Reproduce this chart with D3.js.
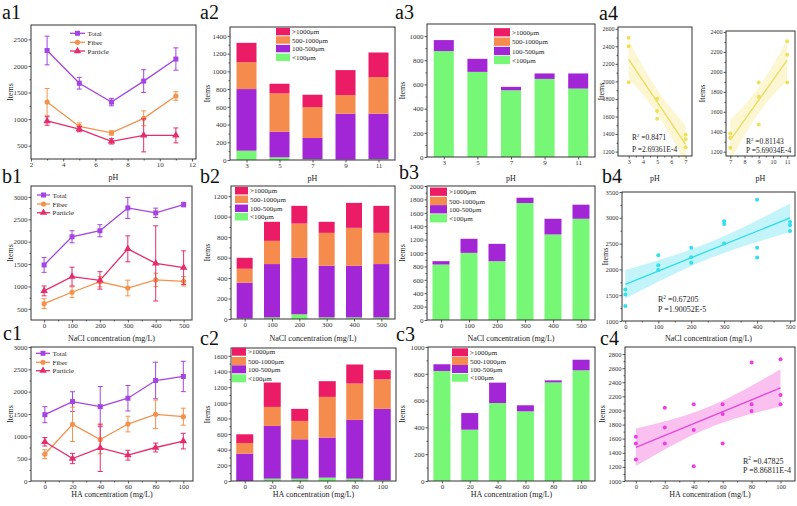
<!DOCTYPE html>
<html><head><meta charset="utf-8">
<script src="https://cdn.jsdelivr.net/npm/d3@7/dist/d3.min.js"></script>
<style>html,body{margin:0;padding:0;background:#fff}svg{display:block}</style>
</head><body>
<svg id="chart" width="797" height="506"></svg>
<script>
// ---------------- DATA ----------------
const phLevels = [3, 5, 7, 9, 11];
const naclLevels = [0, 100, 200, 300, 400, 500];
const haLevels = [0, 20, 40, 60, 80, 100];
const seriesNames = ["Total", "Fiber", "Particle"];
const sizeClasses = [">1000μm", "500-1000μm", "100-500μm", "<100μm"];

// a1 (pH, line + error bars)
const a1Total = [2290, 1675, 1320, 1715, 2130];
const a1TotalErr = [270, 110, 70, 215, 210];
const a1Fiber = [1320, 863, 740, 1015, 1435];
const a1FiberErr = [255, 65, 40, 140, 80];
const a1Particle = [965, 812, 582, 694, 694];
const a1ParticleErr = [80, 50, 50, 310, 140];

// b1 (NaCl)
const b1Total = [1480, 2110, 2245, 2755, 2645, 2830];
const b1TotalErr = [165, 135, 135, 235, 105, 50];
const b1Fiber = [615, 870, 1105, 965, 1145, 1115];
const b1FiberErr = [110, 120, 115, 175, 150, 105];
const b1Particle = [900, 1220, 1135, 1840, 1515, 1420];
const b1ParticleErr = [110, 210, 195, 290, 840, 375];

// c1 (HA)
const c1Total = [1485, 1778, 1665, 1853, 2250, 2340];
const c1TotalErr = [180, 220, 450, 285, 410, 340];
const c1Fiber = [600, 1268, 930, 1275, 1493, 1440];
const c1FiberErr = [100, 385, 320, 175, 320, 190];
const c1Particle = [878, 503, 743, 578, 750, 893];
const c1ParticleErr = [95, 115, 530, 110, 100, 175];

// stacked bars: segment heights (<100, 100-500, 500-1000, >1000)
const a2Lt100 = [105, 30, 11, 4, 11];
const a2S100to500 = [695, 289, 237, 518, 511];
const a2S500to1000 = [304, 432, 349, 210, 413];
const a2Gt1000 = [217, 109, 139, 282, 277];

const a3Lt100 = [876, 704, 552, 646, 566];
const a3S100to500 = [91, 108, 28, 45, 125];
const a3S500to1000 = [0, 0, 0, 0, 0];
const a3Gt1000 = [0, 0, 0, 0, 0];

const b2Lt100 = [5, 16, 46, 16, 16, 16];
const b2S100to500 = [349, 521, 552, 504, 504, 521];
const b2S500to1000 = [137, 227, 335, 322, 371, 305];
const b2Gt1000 = [107, 186, 173, 108, 244, 264];

const b3Lt100 = [828, 1002, 878, 1746, 1277, 1511];
const b3S100to500 = [50, 210, 259, 79, 234, 210];
const b3S500to1000 = [0, 0, 0, 0, 0, 0];
const b3Gt1000 = [0, 0, 0, 0, 0, 0];

const c2Lt100 = [0, 30, 30, 43, 30, 9];
const c2S100to500 = [350, 674, 503, 512, 751, 913];
const c2S500to1000 = [136, 243, 235, 520, 465, 379];
const c2Gt1000 = [111, 312, 154, 201, 243, 115];

const c3Lt100 = [821, 383, 582, 520, 736, 826];
const c3S100to500 = [50, 124, 152, 45, 15, 79];
const c3S500to1000 = [0, 0, 0, 0, 0, 0];
const c3Gt1000 = [0, 0, 0, 0, 0, 0];

// scatter + regression
const a4LeftX = [3, 3, 3, 5, 5, 5, 7, 7, 7];
const a4LeftY = [2497, 2402, 1990, 1803, 1662, 1574, 1391, 1341, 1250];
const a4RightX = [7, 7, 7, 9, 9, 9, 11, 11, 11];
const a4RightY = [1383, 1340, 1240, 1893, 1750, 1473, 2307, 2173, 1893];
const b4X = [0, 0, 0, 100, 100, 100, 200, 200, 200, 300, 300, 300, 400, 400, 400, 500, 500, 500];
const b4Y = [1612, 1515, 1290, 2276, 2082, 1986, 2418, 2237, 2128, 2933, 2881, 2501, 3352, 2418, 2231, 2920, 2856, 2746];
const c4X = [0, 0, 0, 20, 20, 20, 40, 40, 40, 60, 60, 60, 80, 80, 80, 100, 100, 100];
const c4Y = [1627, 1532, 1304, 2040, 1760, 1532, 2087, 1722, 1209, 2087, 1950, 1532, 2681, 2087, 1992, 2728, 2220, 2087];
const statR2 = ["0.8471", "0.81143", "0.67205", "0.47825"];
const statP = ["2.69361E-4", "5.69034E-4", "1.90052E-5", "8.86811E-4"];

// tick labels
const a1XTicks = [2, 4, 6, 8, 10, 12];
const a1YTicks = [500, 1000, 1500, 2000, 2500];
const a2YTicks = [0, 200, 400, 600, 800, 1000, 1200, 1400];
const a3YTicks = [0, 200, 400, 600, 800, 1000];
const a4LeftXTicks = [3, 4, 5, 6, 7];
const a4LeftYTicks = [1200, 1400, 1600, 1800, 2000, 2200, 2400, 2600];
const a4RightXTicks = [7, 8, 9, 10, 11];
const a4RightYTicks = [1200, 1400, 1600, 1800, 2000, 2200, 2400];
const b1YTicks = [500, 1000, 1500, 2000, 2500, 3000];
const b2YTicks = [0, 200, 400, 600, 800, 1000, 1200];
const b3YTicks = [0, 200, 400, 600, 800, 1000, 1200, 1400, 1600, 1800, 2000];
const b4YTicks = [1000, 1500, 2000, 2500, 3000, 3500];
const c1YTicks = [0, 500, 1000, 1500, 2000, 2500, 3000];
const c2YTicks = [0, 200, 400, 600, 800, 1000, 1200, 1400, 1600];
const c3YTicks = [0, 200, 400, 600, 800, 1000];
const c4YTicks = [1000, 1200, 1400, 1600, 1800, 2000, 2200, 2400, 2600, 2800];

// ---------------- DRAWING ----------------
const svg = d3.select("#chart");
const FONT = "'Liberation Serif','Times New Roman',Times,serif";
const LINECOL = { Total: "#A444E2", Fiber: "#F4924D", Particle: "#E62C6C" };
const BARCOL = { lt: "#76F776", s100: "#A326D6", s500: "#F58B4C", gt: "#EC1B66" };
const mid = t => d3.pairs(t).map(p => (p[0] + p[1]) / 2);

function txt(s, x, y, size, o = {}) {
  const t = svg.append("text").attr("x", x).attr("y", y)
    .attr("font-size", size).attr("font-family", FONT)
    .attr("fill", o.fill || "#222").attr("text-anchor", o.anchor || "start").text(s);
  if (o.rotate) t.attr("transform", `rotate(${o.rotate},${x},${y})`);
  return t;
}

function axesFrame(box, x, y, xt, yt, o = {}) {
  const fs = o.fs || 7;
  const g = svg.append("g");
  const gx = g.append("g").attr("transform", `translate(0,${box.B})`)
    .call(d3.axisBottom(x).tickValues(xt).tickSize(2.5).tickSizeOuter(0).tickPadding(1).tickFormat(d3.format("d")));
  const gy = g.append("g").attr("transform", `translate(${box.L},0)`)
    .call(d3.axisLeft(y).tickValues(yt).tickSize(2.5).tickSizeOuter(0).tickPadding(1).tickFormat(d3.format("d")));
  [gx, gy].forEach(s => {
    s.attr("font-family", FONT).attr("font-size", fs);
    s.select(".domain").remove();
    s.selectAll("text").attr("fill", "#333");
  });
  if (o.xMinor) g.append("g").attr("transform", `translate(0,${box.B})`)
    .call(d3.axisBottom(x).tickValues(o.xMinor).tickSize(1.5).tickFormat(""))
    .call(s => s.select(".domain").remove());
  if (o.yMinor) g.append("g").attr("transform", `translate(${box.L},0)`)
    .call(d3.axisLeft(y).tickValues(o.yMinor).tickSize(1.5).tickFormat(""))
    .call(s => s.select(".domain").remove());
  g.selectAll("line").attr("stroke", "#333").attr("stroke-width", 0.8);
  g.append("rect").attr("x", box.L).attr("y", box.T)
    .attr("width", box.R - box.L).attr("height", box.B - box.T)
    .attr("fill", "none").attr("stroke", "#333").attr("stroke-width", 1);
  // titles
  txt("Items", o.yTitleX, (box.T + box.B) / 2, 8, { anchor: "middle", rotate: -90 })
    .attr("dy", "0.35em");
  txt(o.xTitle, (box.L + box.R) / 2, o.xTitleY, 8, { anchor: "middle" });
}

function marker(g, shape, cx, cy, color) {
  if (shape === "square") g.append("rect").attr("x", cx - 2.5).attr("y", cy - 2.5).attr("width", 5).attr("height", 5).attr("fill", color);
  else if (shape === "circle") g.append("circle").attr("cx", cx).attr("cy", cy).attr("r", 2.6).attr("fill", color);
  else g.append("path").attr("d", d3.symbol(d3.symbolTriangle, 24)()).attr("transform", `translate(${cx},${cy})`).attr("fill", color);
}

function drawLinePanel(box, xs, xDom, yDom, xt, yt, series, leg, o) {
  const x = d3.scaleLinear().domain(xDom).range([box.L, box.R]);
  const y = d3.scaleLinear().domain(yDom).range([box.B, box.T]);
  axesFrame(box, x, y, xt, yt, { ...o, xMinor: mid(xt), yMinor: mid(yt) });
  const shapes = ["square", "circle", "triangle"];
  series.forEach((s, k) => {
    const c = LINECOL[s.name];
    const g = svg.append("g");
    g.append("path").datum(xs.map((xv, i) => [xv, s.v[i]]))
      .attr("d", d3.line().x(d => x(d[0])).y(d => y(d[1])))
      .attr("fill", "none").attr("stroke", c).attr("stroke-width", 1.3);
    xs.forEach((xv, i) => {
      const cx = x(xv), y1 = y(s.v[i] + s.e[i]), y0 = y(s.v[i] - s.e[i]);
      g.append("line").attr("x1", cx).attr("x2", cx).attr("y1", y1).attr("y2", y0).attr("stroke", c).attr("stroke-width", 1);
      [y1, y0].forEach(yy => g.append("line").attr("x1", cx - 2.5).attr("x2", cx + 2.5).attr("y1", yy).attr("y2", yy).attr("stroke", c).attr("stroke-width", 1));
      marker(g, shapes[k], cx, y(s.v[i]), c);
    });
    // legend
    const ly = leg.rows[k];
    svg.append("line").attr("x1", leg.x0).attr("x2", leg.x1).attr("y1", ly).attr("y2", ly).attr("stroke", c).attr("stroke-width", 1.3);
    marker(svg, shapes[k], (leg.x0 + leg.x1) / 2, ly, c);
    txt(s.name, leg.x1 + 2.5, ly + 2.5, 7);
  });
}

function drawBarPanel(box, cats, layers, yDom, yt, barW, leg, o) {
  const x = d3.scalePoint().domain(cats).range([box.L, box.R]).padding(0.5);
  const y = d3.scaleLinear().domain(yDom).range([box.B, box.T]);
  const rows = cats.map((c, i) => ({ cat: c, lt: layers[0][i], s100: layers[1][i], s500: layers[2][i], gt: layers[3][i] }));
  const stacked = d3.stack().keys(["lt", "s100", "s500", "gt"])(rows);
  stacked.forEach(layer => {
    svg.append("g").selectAll("rect").data(layer).join("rect")
      .attr("x", d => x(d.data.cat) - barW / 2).attr("width", barW)
      .attr("y", d => y(d[1])).attr("height", d => Math.max(0, y(d[0]) - y(d[1])))
      .attr("fill", BARCOL[layer.key]);
  });
  axesFrame(box, x, y, cats, yt, { ...o, yMinor: mid(yt) });
  const keys = ["gt", "s500", "s100", "lt"];
  keys.forEach((k, i) => {
    const ry = leg.rows[i];
    svg.append("rect").attr("x", leg.x).attr("y", ry - leg.h / 2).attr("width", leg.w).attr("height", leg.h).attr("fill", BARCOL[k]);
    txt(sizeClasses[i], leg.x + leg.w + 2, ry + 2.5, 7);
  });
}

function regress(xs, ys) {
  const n = xs.length, mx = d3.mean(xs), my = d3.mean(ys);
  const sxx = d3.sum(xs, v => (v - mx) ** 2);
  const sxy = d3.sum(xs, (v, i) => (v - mx) * (ys[i] - my));
  const b = sxy / sxx, a = my - b * mx;
  const sse = d3.sum(xs, (v, i) => (ys[i] - (a + b * v)) ** 2);
  const s = Math.sqrt(sse / (n - 2));
  const tTab = { 7: 2.365, 16: 2.120 };
  return { a, b, s, n, mx, sxx, t: tTab[n - 2] || 2.1 };
}

function drawScatterPanel(box, xs, ys, xDom, yDom, xt, yt, col, stat, o) {
  const x = d3.scaleLinear().domain(xDom).range([box.L, box.R]);
  const y = d3.scaleLinear().domain(yDom).range([box.B, box.T]);
  const r = regress(xs, ys);
  const [x0, x1] = d3.extent(xs);
  const grid = d3.range(0, 41).map(i => x0 + (x1 - x0) * i / 40);
  const half = v => r.t * r.s * Math.sqrt(1 / r.n + (v - r.mx) ** 2 / r.sxx);
  svg.append("path").datum(grid)
    .attr("d", d3.area().x(v => x(v)).y0(v => y(r.a + r.b * v - half(v))).y1(v => y(r.a + r.b * v + half(v))))
    .attr("fill", col.band).attr("opacity", col.bandOp || 0.6);
  svg.append("line").attr("x1", x(x0)).attr("x2", x(x1))
    .attr("y1", y(r.a + r.b * x0)).attr("y2", y(r.a + r.b * x1))
    .attr("stroke", col.line).attr("stroke-width", 1.3);
  svg.append("g").selectAll("circle").data(xs).join("circle")
    .attr("cx", v => x(v)).attr("cy", (v, i) => y(ys[i])).attr("r", 2).attr("fill", col.pt);
  axesFrame(box, x, y, xt, yt, { ...o, xMinor: mid(xt), yMinor: mid(yt) });
  const fs = o.statFs || 8;
  const t1 = svg.append("text").attr("x", stat.x).attr("y", stat.y1).attr("font-family", FONT).attr("font-size", fs).attr("fill", "#222");
  t1.append("tspan").text("R");
  t1.append("tspan").text("2").attr("font-size", fs * 0.65).attr("dy", -fs * 0.4);
  t1.append("tspan").text(" =" + stat.r2).attr("dy", fs * 0.4);
  txt("P =" + stat.p, stat.x, stat.y2, fs);
}

// ----- panel labels -----
[["a1", 2, 19, 20], ["a2", 200, 19, 20], ["a3", 395, 19, 20], ["a4", 599, 20, 20],
 ["b1", 2, 183, 20], ["b2", 200, 183, 20], ["b3", 399, 179, 20], ["b4", 602, 183, 20],
 ["c1", 3, 340, 20], ["c2", 200, 345, 20], ["c3", 396, 341, 20], ["c4", 600, 345, 20]]
  .forEach(d => txt(d[0], d[1], d[2], d[3], { fill: "#111" }));

const phT = "pH", naT = "NaCl concentration (mg/L)", haT = "HA concentration (mg/L)";

// ----- a1 -----
drawLinePanel({ L: 31, R: 196, T: 25, B: 159 }, phLevels, [2, 12.25], [250, 2770], a1XTicks, a1YTicks,
  [{ name: seriesNames[0], v: a1Total, e: a1TotalErr }, { name: seriesNames[1], v: a1Fiber, e: a1FiberErr }, { name: seriesNames[2], v: a1Particle, e: a1ParticleErr }],
  { x0: 70, x1: 85, rows: [33.3, 42.3, 51] }, { yTitleX: 10, xTitle: phT, xTitleY: 180 });
// ----- b1 -----
drawLinePanel({ L: 31, R: 192, T: 186, B: 320 }, naclLevels, [-47, 530], [250, 3245], naclLevels, b1YTicks,
  [{ name: seriesNames[0], v: b1Total, e: b1TotalErr }, { name: seriesNames[1], v: b1Fiber, e: b1FiberErr }, { name: seriesNames[2], v: b1Particle, e: b1ParticleErr }],
  { x0: 37, x1: 50, rows: [195, 204, 212.7] }, { yTitleX: 10, xTitle: naT, xTitleY: 341 });
// ----- c1 -----
drawLinePanel({ L: 31, R: 193, T: 347, B: 481 }, haLevels, [-10, 107], [0, 3000], haLevels, c1YTicks,
  [{ name: seriesNames[0], v: c1Total, e: c1TotalErr }, { name: seriesNames[1], v: c1Fiber, e: c1FiberErr }, { name: seriesNames[2], v: c1Particle, e: c1ParticleErr }],
  { x0: 36, x1: 50, rows: [353.3, 362.3, 370.7] }, { yTitleX: 10, xTitle: haT, xTitleY: 497 });

// ----- bars -----
drawBarPanel({ L: 230, R: 395, T: 27, B: 160 }, phLevels, [a2Lt100, a2S100to500, a2S500to1000, a2Gt1000], [0, 1500], a2YTicks, 20,
  { x: 276, w: 14, h: 7.4, rows: [31.6, 40, 48.6, 57.3] }, { yTitleX: 207, xTitle: phT, xTitleY: 181 });
drawBarPanel({ L: 427, R: 595, T: 24, B: 157 }, phLevels, [a3Lt100, a3S100to500, a3S500to1000, a3Gt1000], [0, 1100], a3YTicks, 20,
  { x: 494, w: 16, h: 8.3, rows: [32.3, 41.7, 51, 60] }, { yTitleX: 402, xTitle: phT, xTitleY: 181 });
drawBarPanel({ L: 231, R: 395, T: 186, B: 319 }, naclLevels, [b2Lt100, b2S100to500, b2S500to1000, b2Gt1000], [0, 1300], b2YTicks, 16,
  { x: 235, w: 13, h: 7.5, rows: [190.7, 199.3, 208.3, 216.7] }, { yTitleX: 207, xTitle: naT, xTitleY: 341 });
drawBarPanel({ L: 427, R: 595, T: 186, B: 320 }, naclLevels, [b3Lt100, b3S100to500, b3S500to1000, b3Gt1000], [0, 2000], b3YTicks, 17,
  { x: 430, w: 17, h: 8.3, rows: [191.7, 201, 209.3, 218.3] }, { yTitleX: 402, xTitle: naT, xTitleY: 341 });
drawBarPanel({ L: 231, R: 396, T: 348, B: 481 }, haLevels, [c2Lt100, c2S100to500, c2S500to1000, c2Gt1000], [0, 1700], c2YTicks, 17,
  { x: 232, w: 14, h: 8, rows: [351.7, 361, 369.3, 378.3] }, { yTitleX: 207, xTitle: haT, xTitleY: 497 });
drawBarPanel({ L: 428, R: 595, T: 347, B: 481 }, haLevels, [c3Lt100, c3S100to500, c3S500to1000, c3Gt1000], [0, 1000], c3YTicks, 17,
  { x: 452, w: 16, h: 8, rows: [352.3, 361, 369, 377.7] }, { yTitleX: 402, xTitle: haT, xTitleY: 497 });

// ----- scatter -----
const yellow = { pt: "#F0E05A", line: "#E9DC5E", band: "#FBF4C8", bandOp: 0.8 };
const cyan = { pt: "#2FE0EE", line: "#2DDCEA", band: "#BDF3F8", bandOp: 0.9 };
const magenta = { pt: "#EE3EDF", line: "#E548D6", band: "#F8B9EE", bandOp: 0.9 };
drawScatterPanel({ L: 618, R: 692, T: 27, B: 156 }, a4LeftX, a4LeftY, [2.25, 7.45], [1150, 2620], a4LeftXTicks, a4LeftYTicks, yellow,
  { x: 632, y1: 139.5, y2: 152, r2: statR2[0], p: statP[0] }, { fs: 6, statFs: 7.5, yTitleX: 601, xTitle: phT, xTitleY: 181 });
drawScatterPanel({ L: 726, R: 795, T: 31, B: 156 }, a4RightX, a4RightY, [6.7, 11.55], [1157, 2410], a4RightXTicks, a4RightYTicks, yellow,
  { x: 746, y1: 144, y2: 153, r2: statR2[1], p: statP[1] }, { fs: 6, statFs: 7.5, yTitleX: 702, xTitle: phT, xTitleY: 181 });
drawScatterPanel({ L: 622, R: 795, T: 192, B: 321 }, b4X, b4Y, [-10, 515], [1000, 3500], naclLevels, b4YTicks, cyan,
  { x: 658, y1: 302, y2: 312, r2: statR2[2], p: statP[2] }, { fs: 6.5, yTitleX: 605, xTitle: naT, xTitleY: 341 });
drawScatterPanel({ L: 625, R: 795, T: 347, B: 481 }, c4X, c4Y, [-7.5, 110], [1000, 2900], haLevels, c4YTicks, magenta,
  { x: 743, y1: 463.5, y2: 473, r2: statR2[3], p: statP[3] }, { fs: 6.5, yTitleX: 602, xTitle: haT, xTitleY: 497 });
</script>
</body></html>
